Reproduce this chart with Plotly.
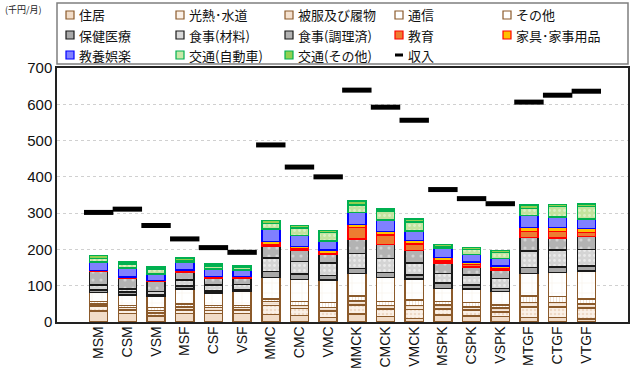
import plotly.graph_objects as go

# Household groups on the category axis
groups = ["MSM", "CSM", "VSM", "MSF", "CSF", "VSF", "MMC", "CMC", "VMC",
          "MMCK", "CMCK", "VMCK", "MSPK", "CSPK", "VSPK", "MTGF", "CTGF", "VTGF"]

# Monthly spending by item (thousand yen / month)
housing = [31, 24, 16, 23, 23, 23, 21, 18, 12, 22, 15, 10, 19, 17, 15, 12, 12, 8]
utilities = [13, 9, 9, 10, 9, 10, 25, 19, 18, 25, 21, 25, 17, 16, 13, 30, 30, 30]
clothing = [6, 7, 7, 9, 8, 7, 10, 9, 10, 11, 9, 10, 11, 9, 10, 12, 12, 11]
telecom = [6, 6, 8, 7, 6, 6, 7, 11, 14, 14, 11, 16, 9, 12, 9, 18, 16, 14]
other = [25, 29, 30, 42, 34, 38, 60, 60, 62, 62, 67, 57, 37, 37, 37, 62, 67, 77]
health = [7, 8, 5, 8, 5, 4, 16, 15, 12, 14, 14, 11, 14, 11, 9, 16, 15, 15]
food_raw = [14, 8, 9, 17, 17, 16, 37, 35, 34, 41, 38, 34, 27, 27, 27, 46, 46, 45]
food_ready = [37, 29, 27, 22, 18, 16, 34, 30, 24, 40, 39, 34, 28, 23, 23, 37, 34, 35]
education = [0, 0, 0, 2, 1, 1, 4, 4, 3, 32, 26, 18, 6, 6, 5, 17, 17, 12]
furniture = [3, 4, 4, 4, 4, 4, 8, 7, 9, 8, 9, 9, 10, 8, 7, 10, 11, 11]
leisure = [24, 25, 17, 21, 21, 19, 34, 31, 25, 33, 32, 27, 24, 20, 20, 33, 30, 26]
car = [9, 11, 14, 5, 8, 7, 16, 20, 24, 20, 25, 25, 5, 14, 17, 20, 28, 34]
transit = [8, 6, 5, 6, 6, 5, 8, 7, 5, 11, 5, 8, 7, 5, 5, 9, 6, 7]

# Monthly income
income = [302, 311, 266, 229, 205, 192, 488, 427, 400, 639, 592, 556, 365, 340, 326, 606, 625, 636]

BROWN = "#8B5A2B"
BLACK = "#1a1a1a"
RED = "#FF0000"

def pat(shape, fg, bg, size=6, solidity=0.3):
    return dict(shape=shape, fgcolor=fg, bgcolor=bg, size=size, solidity=solidity)

series = [
    ("住居", housing, "#F1DCC8", None, BROWN),
    ("光熱･水道", utilities, "#FBF1E8", pat(".", "#E3C3A5", "#FBF1E8", 4, 0.35), BROWN),
    ("被服及び履物", clothing, "#F4E1CF", pat("-", "#E8CDB3", "#F7EADD", 3, 0.3), BROWN),
    ("通信", telecom, "#FFFFFF", pat("|", "#E3C3A5", "#FFFFFF", 3, 0.3), BROWN),
    ("その他", other, "#FFFFFF", pat("+", "#F0DDCB", "#FFFFFF", 10, 0.1), BROWN),
    ("保健医療", health, "#A9A9A9", None, BLACK),
    ("食事(材料)", food_raw, "#D9D9D9", pat(".", "#FFFFFF", "#D4D4D4", 5, 0.25), BLACK),
    ("食事(調理済)", food_ready, "#B3B3B3", pat(".", "#F2F2F2", "#B3B3B3", 8, 0.12), BLACK),
    ("教育", education, "#ED7D31", None, RED),
    ("家具･家事用品", furniture, "#FFC000", None, RED),
    ("教養娯楽", leisure, "#8080FF", None, "#0000FF"),
    ("交通(自動車)", car, "#C9E8A8", pat(".", "#F4FBEA", "#C3E39E", 5, 0.25), "#00B050"),
    ("交通(その他)", transit, "#92D050", None, "#00B050"),
]

W, H = 632, 372
ML, MR, MT, MB = 57, 4, 68, 50
PW, PH = W - ML - MR, H - MT - MB

def px(x):
    return (x - ML) / PW

def py(y):
    return (H - MB - y) / PH

fig = go.Figure()
for name, vals, fill, pattern, edge in series:
    marker = dict(color=fill, line=dict(color=edge, width=1.5))
    if pattern:
        marker["pattern"] = pattern
    fig.add_bar(x=groups, y=vals, name=name, marker=marker)

fig.add_scatter(
    x=groups, y=income, mode="markers", name="収入",
    marker=dict(symbol="line-ew", size=21, color="black",
                line=dict(width=5, color="black")),
)

FONT = "Liberation Sans, Arial, Noto Sans CJK JP, sans-serif"
JP = "Noto Sans CJK JP, sans-serif"

fig.update_layout(
    width=W, height=H,
    margin=dict(l=ML, r=MR, t=MT, b=MB),
    barmode="stack",
    bargap=0.37,
    plot_bgcolor="white",
    paper_bgcolor="white",
    font=dict(family=FONT, size=13, color="#222"),
    showlegend=False,
)

fig.update_xaxes(
    type="category", tickangle=-90, automargin=False,
    showline=True, linecolor="#222", linewidth=1.5, mirror=True,
    ticks="", tickfont=dict(size=14, color="#111"), ticklabelstandoff=-3,
)
fig.update_yaxes(
    range=[0, 700], dtick=100, automargin=False,
    showgrid=True, gridcolor="#D0D0D0", griddash="dot", gridwidth=1,
    showline=True, linecolor="#222", linewidth=1.5, mirror=True,
    ticks="", tickfont=dict(size=15, color="#111"),
    zeroline=False,
)

# Legend box: five columns, three rows
fig.add_shape(type="rect", xref="paper", yref="paper",
              x0=px(57), x1=px(628), y0=py(64), y1=py(3),
              line=dict(color="#7f7f7f", width=1.5), fillcolor="white", layer="above")

col_x = [66, 176, 285, 395, 503]
row_y = [15, 35, 55]
entries = [(s[0], s[2], s[4]) for s in series] + [("収入", None, None)]
for i, (name, fill, edge) in enumerate(entries):
    cx = col_x[i % 5]
    cy = row_y[i // 5]
    if fill is None:
        fig.add_shape(type="line", xref="paper", yref="paper",
                      x0=px(cx), x1=px(cx + 8), y0=py(cy), y1=py(cy),
                      line=dict(color="black", width=3), layer="above")
    else:
        fig.add_shape(type="rect", xref="paper", yref="paper",
                      x0=px(cx), x1=px(cx + 8), y0=py(cy + 4), y1=py(cy - 4),
                      line=dict(color=edge, width=1.2), fillcolor=fill, layer="above")
    fig.add_annotation(text=name, xref="paper", yref="paper",
                       x=px(cx + 11), y=py(cy), xanchor="left", yanchor="middle",
                       showarrow=False, font=dict(family=JP, size=13, color="#111"))

# unit label in the top-left corner
fig.add_annotation(
    text="(千円/月)", xref="paper", yref="paper", x=px(3), y=py(1),
    xanchor="left", yanchor="top", showarrow=False,
    font=dict(family=JP, size=9, color="#222"),
)

fig.write_html("out.html")
